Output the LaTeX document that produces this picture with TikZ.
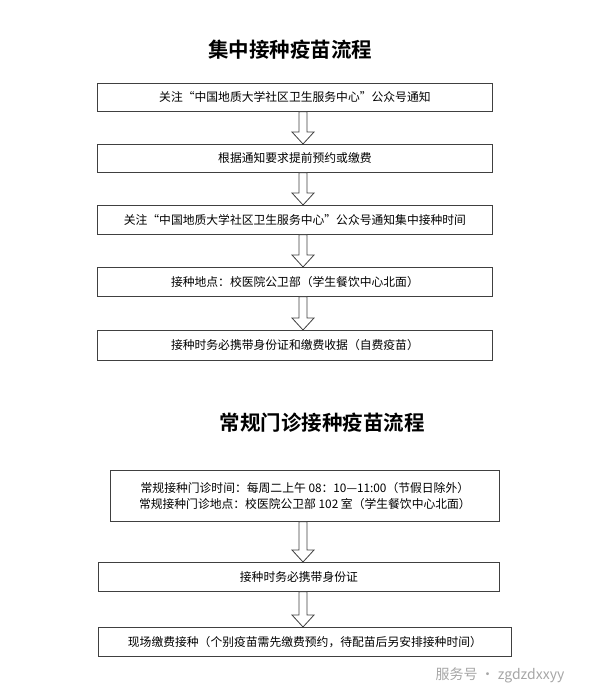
\documentclass[tikz,border=0pt]{standalone}
\usepackage{fontspec}
\setmainfont{Liberation Serif}
\newfontfamily\cjk{Noto Sans CJK SC}
\newfontfamily\cjkb{Noto Sans CJK SC Bold}
\usetikzlibrary{calc}
\newcommand{\blkarrow}[3]{%
  \draw[barrow] let \p1=(#1.south), \p2=(#2.north) in
   (#3-4,\y1) -- (#3+4,\y1) -- (#3+4,\y2+12) -- (#3+11,\y2+12) -- (#3,\y2) -- (#3-11,\y2+12) -- (#3-4,\y2+12) -- cycle;}
\begin{document}
\begin{tikzpicture}[x=1pt,y=-1pt,
  box/.style={draw=black!75,line width=0.8pt,inner sep=0pt,font=\cjk\fontsize{11.8}{16}\selectfont,align=center,anchor=north west},
  barrow/.style={draw=black!75,line width=0.8pt,fill=white},
  ttl/.style={font=\cjkb\fontsize{20.5}{24}\selectfont}]
\useasboundingbox (0,0) rectangle (609,700);
\node[ttl] (t1) at (290,50) {集中接种疫苗流程};
\node[box,minimum width=395,minimum height=28] (b1) at (97,83) {关注“中国地质大学社区卫生服务中心”公众号通知};
\node[box,minimum width=395,minimum height=28] (b2) at (97,144) {根据通知要求提前预约或缴费};
\node[box,minimum width=395,minimum height=29] (b3) at (97,205) {关注“中国地质大学社区卫生服务中心”公众号通知集中接种时间};
\node[box,minimum width=395,minimum height=29] (b4) at (97,267) {接种地点：校医院公卫部（学生餐饮中心北面）};
\node[box,minimum width=395,minimum height=30] (b5) at (97,330) {接种时务必携带身份证和缴费收据（自费疫苗）};
\blkarrow{b1}{b2}{303}
\blkarrow{b2}{b3}{303}
\blkarrow{b3}{b4}{303}
\blkarrow{b4}{b5}{303}
\node[ttl] (t2) at (322,423) {常规门诊接种疫苗流程};
\node[box,minimum width=389,minimum height=51] (b6) at (110,470) {常规接种门诊时间：每周二上午 08：10—11:00（节假日除外）\\常规接种门诊地点：校医院公卫部 102 室（学生餐饮中心北面）};
\node[box,minimum width=401,minimum height=29] (b7) at (98,562) {接种时务必携带身份证};
\node[box,minimum width=413,minimum height=29] (b8) at (98,627) {现场缴费接种（个别疫苗需先缴费预约，待配苗后另安排接种时间）};
\blkarrow{b6}{b7}{303}
\blkarrow{b7}{b8}{303}
\node[font=\cjk\fontsize{14}{16}\selectfont,text=black!35,anchor=west] (wm) at (432,675) {服务号 · zgdzdxxyy};
\end{tikzpicture}
\end{document}
